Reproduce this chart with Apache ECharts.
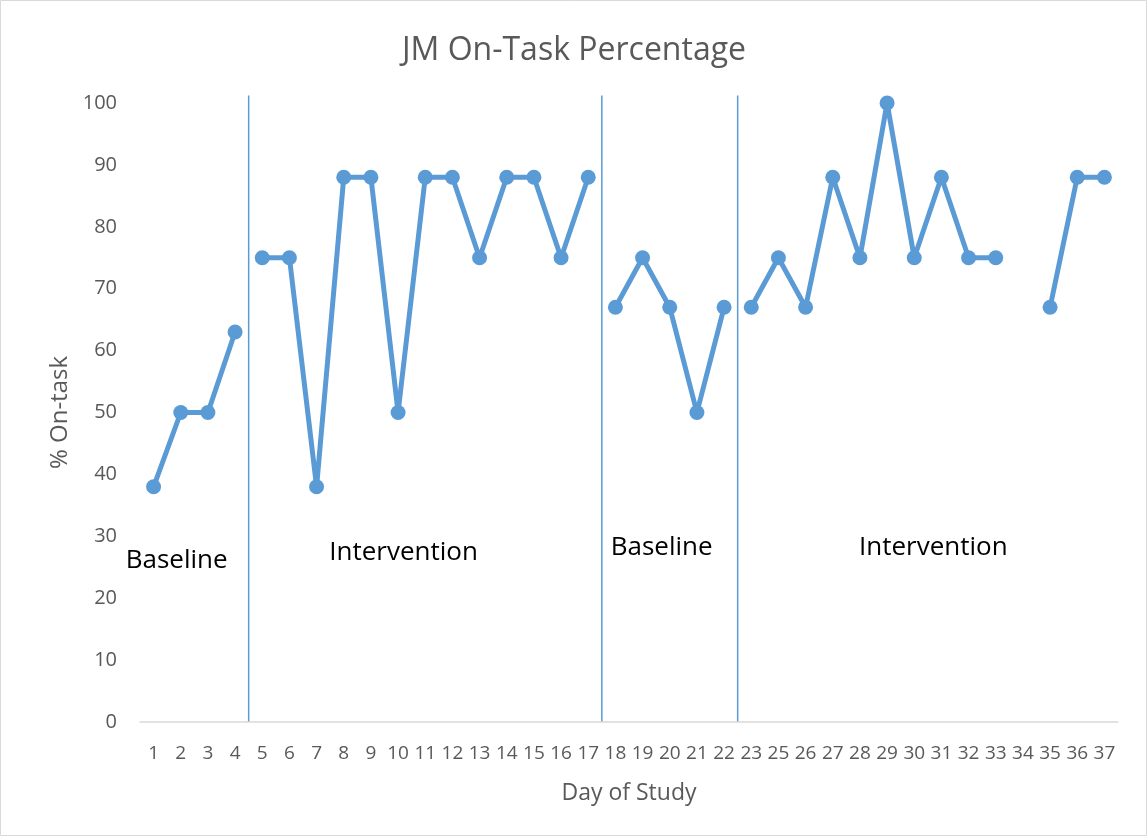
<!DOCTYPE html>
<html>
<head>
<meta charset="utf-8">
<script src="https://cdn.jsdelivr.net/npm/echarts@6/dist/echarts.min.js"></script>
<style>html,body{margin:0;padding:0;background:#fff}#c{width:1148px;height:837px}</style>
</head>
<body>
<div id="c"></div>
<script>
const days = ['1','2','3','4','5','6','7','8','9','10','11','12','13','14','15','16','17','18','19','20','21','22','23','25','26','27','28','29','30','31','32','33','34','35','36','37'];
const onTask = [38,50,50,63,75,75,38,88,88,50,88,88,75,88,88,75,88,67,75,67,50,67,67,75,67,88,75,100,75,88,75,75,null,67,88,88];
const phaseStarts = [0, 4, 17, 22];
const phaseNames = ['Baseline', 'Intervention', 'Baseline', 'Intervention'];
const yTicks = [0, 10, 20, 30, 40, 50, 60, 70, 80, 90, 100];

// annotation placement (category index, value) for phase labels
const phaseLabelAt = [[0.85, 26], [9.2, 27.3], [18.7, 28.2], [28.7, 28.2]];

const COLOR = '#5B9BD5';
const GREY = '#595959';
const FONT = '"Open Sans", "Noto Sans", sans-serif';

const chart = echarts.init(document.getElementById('c'));

const series = phaseStarts.map((s, k) => {
  const e = k + 1 < phaseStarts.length ? phaseStarts[k + 1] - 1 : onTask.length - 1;
  return {
    type: 'line',
    name: phaseNames[k] + k,
    data: onTask.map((v, i) => (i >= s && i <= e ? v : null)),
    connectNulls: false,
    symbol: 'circle',
    symbolSize: 15,
    lineStyle: { color: COLOR, width: 5 },
    itemStyle: { color: COLOR },
    animation: false
  };
});

chart.setOption({
  animation: false,
  title: {
    text: 'JM On-Task Percentage',
    left: 'center',
    top: 30,
    textStyle: { color: GREY, fontSize: 32, fontWeight: 'normal', fontFamily: FONT }
  },
  grid: { left: 140, right: 30, top: 103, bottom: 115 },
  xAxis: {
    type: 'category',
    data: days,
    boundaryGap: true,
    name: 'Day of Study',
    nameLocation: 'middle',
    nameGap: 60,
    nameTextStyle: { color: GREY, fontSize: 23, fontFamily: FONT },
    axisLine: { lineStyle: { color: '#d9d9d9', width: 1.5 } },
    axisTick: { show: false },
    axisLabel: { interval: 0, color: GREY, fontSize: 19, margin: 22, fontFamily: FONT },
    splitLine: { show: false }
  },
  yAxis: {
    type: 'value',
    min: yTicks[0],
    max: yTicks[yTicks.length - 1],
    interval: yTicks[1] - yTicks[0],
    name: '% On-task',
    nameLocation: 'middle',
    nameGap: 67,
    nameTextStyle: { color: GREY, fontSize: 24, fontFamily: FONT },
    axisLine: { show: false },
    axisTick: { show: false },
    axisLabel: { color: GREY, fontSize: 20, margin: 23, fontFamily: FONT },
    splitLine: { show: false }
  },
  series: series
});

// phase change lines and phase labels, positioned through the axes
const graphics = [{
  type: 'rect',
  shape: { x: 0.5, y: 0.5, width: 1146, height: 835 },
  style: { fill: 'none', stroke: '#d9d9d9', lineWidth: 1 },
  silent: true
}];
phaseStarts.slice(1).forEach(s => {
  const a = chart.convertToPixel({ gridIndex: 0 }, [s - 1, 0]);
  const b = chart.convertToPixel({ gridIndex: 0 }, [s, 101.2]);
  const x = (a[0] + b[0]) / 2;
  graphics.push({
    type: 'line',
    shape: { x1: x, y1: b[1], x2: x, y2: a[1] },
    style: { stroke: COLOR, lineWidth: 1.5 },
    silent: true
  });
});
phaseNames.forEach((n, k) => {
  const i0 = Math.floor(phaseLabelAt[k][0]);
  const p0 = chart.convertToPixel({ gridIndex: 0 }, [i0, phaseLabelAt[k][1]]);
  const p1 = chart.convertToPixel({ gridIndex: 0 }, [i0 + 1, phaseLabelAt[k][1]]);
  const x = p0[0] + (p1[0] - p0[0]) * (phaseLabelAt[k][0] - i0);
  graphics.push({
    type: 'text',
    x: x, y: p0[1],
    style: { text: n, fill: '#000', fontSize: 26, fontFamily: FONT, align: 'center', verticalAlign: 'middle' },
    silent: true
  });
});
chart.setOption({ graphic: graphics });
</script>
</body>
</html>
